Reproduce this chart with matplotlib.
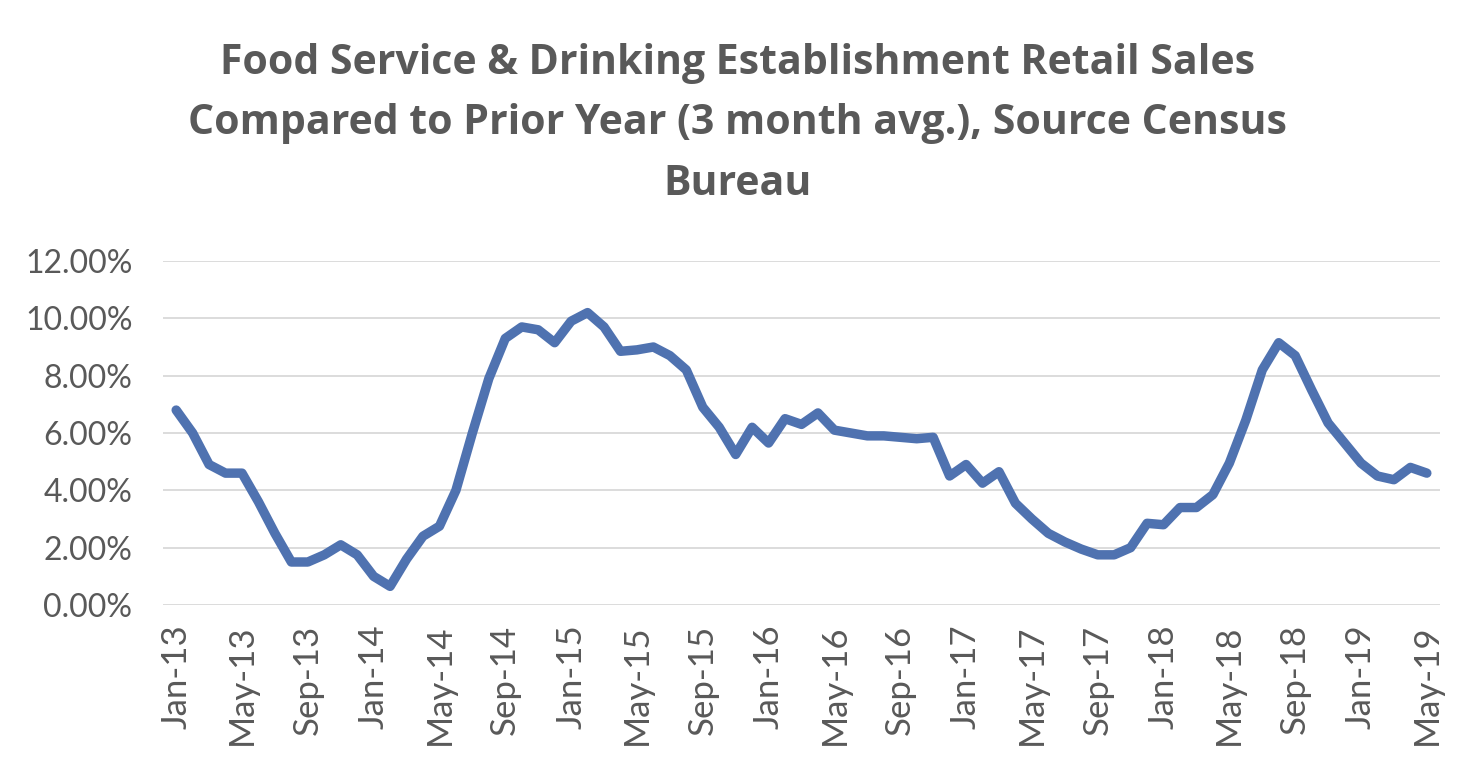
import matplotlib
matplotlib.use("Agg")
import matplotlib.pyplot as plt
from matplotlib.ticker import FuncFormatter

months = ["Jan", "Feb", "Mar", "Apr", "May", "Jun", "Jul", "Aug", "Sep", "Oct", "Nov", "Dec"]
dates = [f"{m}-{y}" for y in range(13, 20) for m in months][:77]

sales_growth = [
    6.8, 6.0, 4.9, 4.6, 4.6, 3.6, 2.5, 1.5, 1.5, 1.75, 2.1, 1.75,
    1.0, 0.65, 1.6, 2.4, 2.75, 4.0, 6.0, 7.9, 9.3, 9.7, 9.6, 9.15,
    9.9, 10.2, 9.7, 8.85, 8.9, 9.0, 8.7, 8.2, 6.9, 6.2, 5.25, 6.2,
    5.65, 6.5, 6.3, 6.7, 6.1, 6.0, 5.9, 5.9, 5.85, 5.8, 5.85, 4.5,
    4.9, 4.25, 4.65, 3.55, 3.0, 2.5, 2.2, 1.95, 1.75, 1.75, 2.0, 2.85,
    2.8, 3.4, 3.4, 3.85, 4.95, 6.45, 8.2, 9.15, 8.7, 7.5, 6.35, 5.65,
    4.95, 4.5, 4.37, 4.8, 4.6,
]

yticks = [0, 2, 4, 6, 8, 10, 12]
title = ("Food Service & Drinking Establishment Retail Sales\n"
         "Compared to Prior Year (3 month avg.), Source Census\nBureau")

grey = "#595959"
fig = plt.figure(figsize=(14.76, 7.72), dpi=100)
ax = fig.add_axes([163 / 1476, 1 - 605 / 772, (1440 - 163) / 1476, (605 - 261) / 772])

x = list(range(len(dates)))
ax.plot(x, sales_growth, color="#4F72B0", linewidth=6.8, solid_joinstyle="round",
        solid_capstyle="round", zorder=3)

ax.set_ylim(0, 12)
ax.set_xlim(-0.8, len(dates) - 0.2)
ax.set_yticks(yticks)
ax.yaxis.set_major_formatter(FuncFormatter(lambda v, p: f"{v:.2f}%"))
ax.set_xticks(x[::4])
ax.set_xticklabels(dates[::4], rotation=90)
ax.grid(axis="y", color="#D9D9D9", linewidth=1.3)
ax.set_axisbelow(True)
for s in ["top", "right", "left", "bottom"]:
    ax.spines[s].set_visible(False)
ax.tick_params(axis="both", length=0, colors=grey)
ax.tick_params(axis="y", pad=22, labelsize=23)
ax.tick_params(axis="x", pad=14, labelsize=25)
for lbl in ax.get_xticklabels() + ax.get_yticklabels():
    lbl.set_family("Lato")

fig.text(0.5, 1 - 124 / 772, title, ha="center", va="center", fontsize=29.5,
         fontweight="bold", color=grey, family="Open Sans", linespacing=1.62)

fig.savefig("out.png", dpi=100, facecolor="white")
